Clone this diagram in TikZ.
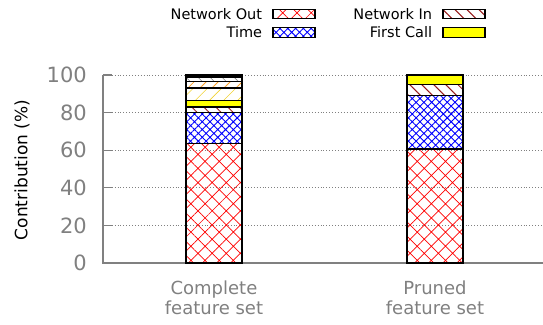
\documentclass[tikz,border=0pt]{standalone}
\usepackage{fontspec}
\setmainfont{DejaVu Sans}
\usetikzlibrary{patterns.meta,positioning}
\definecolor{axisgray}{RGB}{128,128,128}
\definecolor{inbrown}{RGB}{150,25,25}
\definecolor{lineorange}{RGB}{250,160,40}
\definecolor{linegold}{RGB}{240,210,50}
\definecolor{dotgreen}{RGB}{0,150,0}
\definecolor{calyellow}{RGB}{255,255,0}

\tikzset{
  seg/.style={draw=black,line width=1.4pt},
  netout/.style={seg,pattern={Hatch[angle=45,distance=10pt,line width=0.7pt]},pattern color=red},
  timefill/.style={seg,pattern={Hatch[angle=45,distance=5.5pt,line width=0.9pt]},pattern color=blue},
  netin/.style={seg,pattern={Lines[angle=-45,distance=8.5pt,line width=1pt]},pattern color=inbrown},
  firstcall/.style={seg,fill=calyellow},
  goldlines/.style={seg,pattern={Lines[angle=45,distance=10pt,line width=0.6pt]},pattern color=linegold},
  orangelines/.style={seg,pattern={Lines[angle=45,distance=8.5pt,line width=0.8pt]},pattern color=lineorange},
  greylines/.style={seg,pattern={Lines[angle=-45,distance=8.5pt,line width=0.6pt]},pattern color=gray},
  greendots/.style={seg,pattern={Dots[distance=7pt,radius=0.8pt]},pattern color=dotgreen},
  key/.style={line width=1.1pt,minimum width=42pt,minimum height=9.5pt,inner sep=0pt},
  legtext/.style={font=\fontsize{14.5}{16}\selectfont,inner sep=0pt,anchor=east},
  ticklab/.style={font=\fontsize{21}{24}\selectfont,text=axisgray,inner sep=0pt,anchor=east},
  xlab/.style={font=\fontsize{18}{20}\selectfont,text=axisgray,align=center,inner sep=0pt},
}

\begin{document}
\begin{tikzpicture}[x=1pt,y=1pt]
\useasboundingbox (0,0) rectangle (543,324);

\begin{scope}[shift={(103,61)},yscale=1.88]
\foreach \tk in {20,40,...,100}{
  \draw[axisgray,dotted,line width=0.9pt] (0,\tk) -- (440,\tk);
  \draw[axisgray,line width=1.2pt] (0,\tk) -- (9,\tk);
}
\foreach \tk in {0,20,...,100}
  \node[ticklab] (tick\tk) at (-16,\tk) {\tk};
\draw[axisgray,line width=1.5pt] (440,0) -- (0,0) -- (0,100);

\draw[netout] (83,0) rectangle (139,63.5);
\draw[timefill] (83,63.5) rectangle (139,80);
\draw[netin] (83,80) rectangle (139,83);
\draw[firstcall] (83,83) rectangle (139,86.5);
\draw[goldlines] (83,86.5) rectangle (139,93);
\draw[orangelines] (83,93) rectangle (139,96.5);
\draw[greylines] (83,96.5) rectangle (139,99);
\draw[greendots] (83,99) rectangle (139,100);

\draw[netout] (304,0) rectangle (360,60.6);
\draw[timefill] (304,60.6) rectangle (360,89);
\draw[netin] (304,89) rectangle (360,95);
\draw[firstcall] (304,95) rectangle (360,100);
\end{scope}

\node[xlab] (complete) at (214,26) {Complete\\feature set};
\node[xlab] (pruned) at (435,26) {Pruned\\feature set};
\node[rotate=90,font=\fontsize{17}{20}\selectfont] (ylab) at (22,154) {Contribution (\%)};

\node[key,netout] (keyout) at (294,310) {};
\node[legtext,left=10pt of keyout.west] (labout) {Network Out};
\node[key,timefill] (keytime) at (294,291.5) {};
\node[legtext,left=10pt of keytime.west] (labtime) {Time};
\node[key,netin] (keyin) at (464,310) {};
\node[legtext,left=10pt of keyin.west] (labin) {Network In};
\node[key,firstcall] (keycall) at (464,291.5) {};
\node[legtext,left=10pt of keycall.west] (labcall) {First Call};
\end{tikzpicture}
\end{document}
